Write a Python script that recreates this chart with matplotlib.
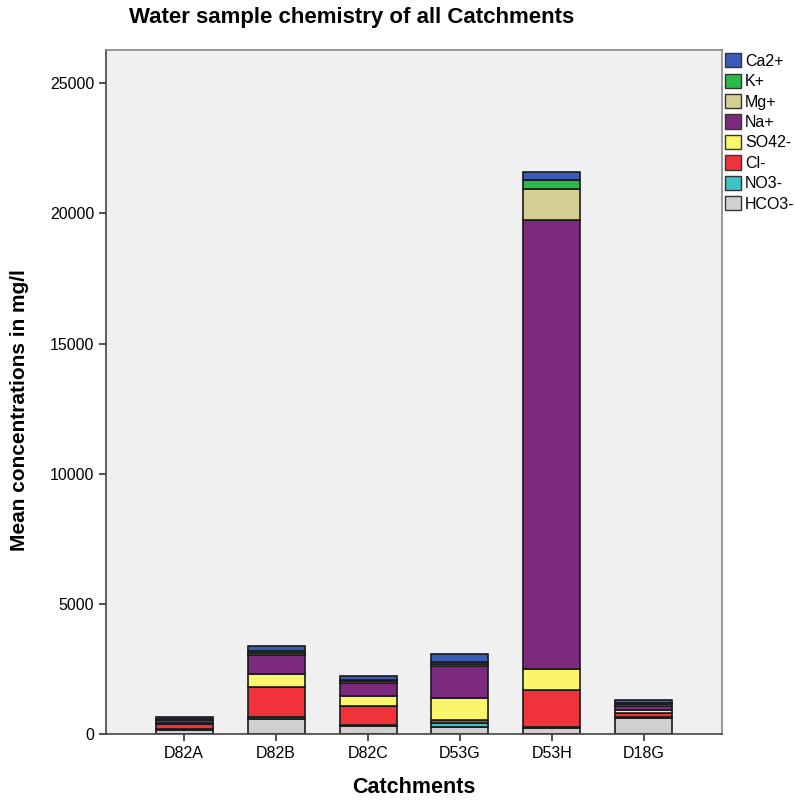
import numpy as np
import matplotlib
matplotlib.use("Agg")
import matplotlib.pyplot as plt
from matplotlib.patches import Patch

plt.rcParams['font.family'] = ['Liberation Sans', 'DejaVu Sans']

# Datos (mg/l)
catchments = ["D82A", "D82B", "D82C", "D53G", "D53H", "D18G"]
ions = ["HCO3-", "NO3-", "Cl-", "SO42-", "Na+", "Mg+", "K+", "Ca2+"]

hco3 = [170, 580, 310, 270, 230, 620]
no3 = [30, 90, 50, 150, 40, 40]
cl = [190, 1150, 730, 110, 1420, 150]
so4 = [40, 500, 380, 840, 810, 110]
na = [90, 730, 500, 1250, 17250, 150]
mg = [40, 60, 50, 80, 1180, 80]
k = [30, 60, 50, 80, 360, 60]
ca = [50, 230, 150, 300, 320, 100]

series = [hco3, no3, cl, so4, na, mg, k, ca]
colors = ["#d0d0d0", "#3cc3c3", "#f0333a", "#fbf56b",
          "#7b2a7e", "#d4d094", "#2db84a", "#3b5bb8"]

fig = plt.figure(figsize=(7.95, 8.08), dpi=100)
ax = fig.add_axes([106 / 795, 1 - 734 / 808, 616 / 795, 684 / 808])
ax.set_facecolor("#f0f0f0")

x = np.arange(len(catchments))
bottom = np.zeros(len(catchments))
for vals, col in zip(series, colors):
    ax.bar(x, vals, width=0.62, bottom=bottom, color=col,
           edgecolor="#1a1a1a", linewidth=1.2)
    bottom += np.array(vals)

ax.set_xlim(-0.85, 5.85)
ax.set_ylim(0, 26280)
ax.set_yticks([0, 5000, 10000, 15000, 20000, 25000])
ax.set_xticks(x)
ax.set_xticklabels(catchments)
ax.tick_params(labelsize=11.5, length=5, width=1.2, color="#333333")

for s in ["top", "right"]:
    ax.spines[s].set_color("#888888")
for s in ["left", "bottom"]:
    ax.spines[s].set_color("#444444")
for s in ax.spines.values():
    s.set_linewidth(1.2)

ax.set_xlabel("Catchments", fontsize=15.5, fontweight="bold", labelpad=12)
ax.set_ylabel("Mean concentrations in mg/l", fontsize=15, fontweight="bold")
ax.yaxis.set_label_coords(-0.125, 0.474)

fig.text(352 / 795, 1 - 18 / 808, "Water sample chemistry of all Catchments",
         ha="center", va="center", fontsize=16, fontweight="bold")

handles = [Patch(facecolor=c, edgecolor="#333333", label=l)
           for l, c in zip(ions[::-1], colors[::-1])]
fig.legend(handles=handles, loc="upper left", bbox_to_anchor=(722 / 795, 1 - 50 / 808),
           frameon=False, fontsize=11.5, handlelength=1.0, handleheight=1.0,
           handletextpad=0.25, labelspacing=0.3, borderaxespad=0, borderpad=0.2)

fig.savefig("out.png", dpi=100)
